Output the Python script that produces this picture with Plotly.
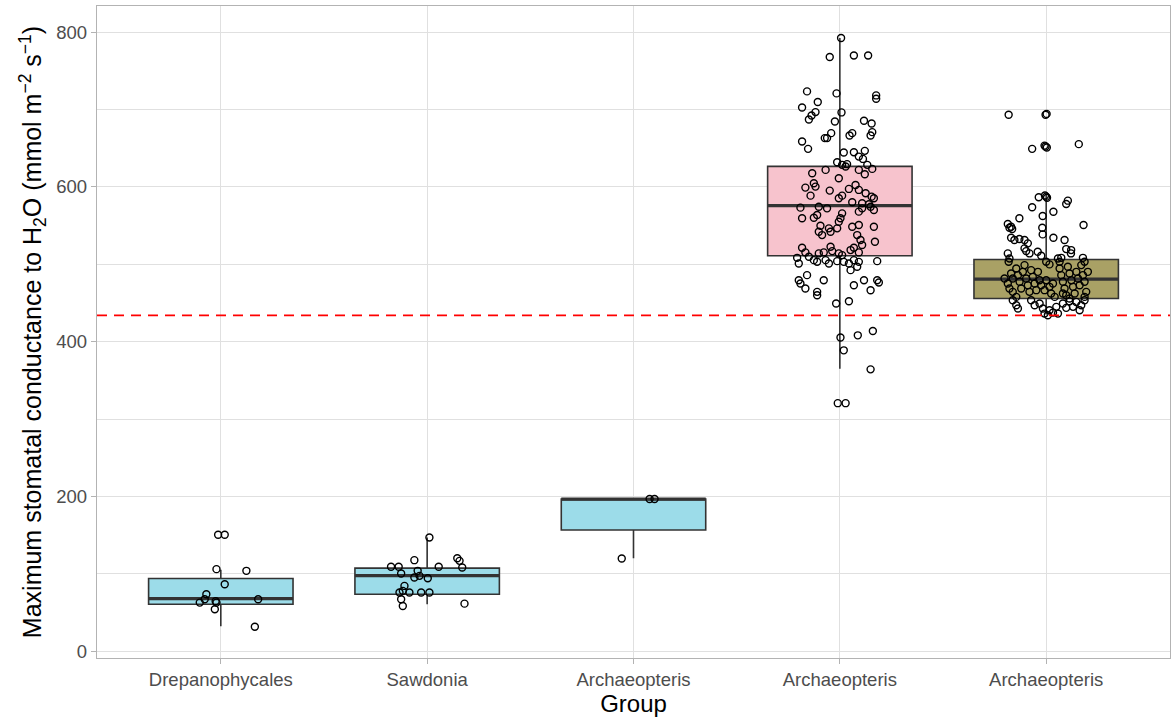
import plotly.graph_objects as go

# ---------------- data ----------------
tick_labels = ["Drepanophycales", "Sawdonia", "Archaeopteris", "Archaeopteris", "Archaeopteris"]
positions = [1, 2, 3, 4, 5]

# box statistics
q1 = [60.5, 73.5, 156.4, 511.0, 455.8]
median = [67.8, 97.6, 196.6, 576.0, 480.8]
q3 = [93.7, 107.2, 196.6, 626.6, 506.3]
lower_whisker = [32.0, 60.5, 120.1, 365.0, 435.0]
upper_whisker = [105.0, 146.8, 196.6, 792.7, 589.7]

box_fills = ["#9CDCE9", "#9CDCE9", "#9CDCE9", "#F7C3CD", "#A9A165"]

reference_line = 434

# observations (values) and their horizontal jitter (category units)
g1_values = [150.3, 150.3, 105.9, 103.7, 86.4, 73.5, 67.0, 62.6, 62.6, 64.5, 67.0, 54.0, 31.5]
g1_jitter = [-0.013, 0.019, -0.021, 0.124, 0.019, -0.070, -0.078, -0.102, -0.021, -0.025, 0.181, -0.029, 0.165]

g2_values = [146.8, 108.9, 108.9, 117.5, 108.9, 120.0, 116.6, 108.0, 100.2, 103.7, 97.2, 95.0,
             94.2, 84.2, 77.8, 75.6, 75.6, 75.6, 75.6, 67.0, 58.3, 61.3]
g2_jitter = [0.011, -0.175, -0.138, -0.062, 0.056, 0.146, 0.157, 0.170, -0.126, -0.046, -0.037, -0.062,
             0.003, -0.110, -0.118, -0.134, -0.086, -0.029, 0.011, -0.126, -0.118, 0.181]

g3_values = [119.6, 196.6, 196.6]
g3_jitter = [-0.057, 0.078, 0.102]

g4_values = [792.7, 768.0, 770.0, 770.0, 723.6, 721.0, 709.8, 718.4, 714.0, 702.8, 696.4, 696.8,
             692.5, 687.3, 684.7, 685.6, 682.1, 670.9, 666.6, 669.6, 666.6, 669.6, 663.2, 663.2,
             658.8, 649.3, 644.5, 645.0, 646.7, 639.3, 636.3, 628.6, 632.0, 628.6, 629.5,
             617.8, 622.1, 626.4, 622.1, 623.4, 616.5, 611.3, 604.9, 600.5, 599.2, 588.8, 595.3,
             597.5, 602.6, 596.2, 591.9, 587.5, 585.4, 585.4, 588.8, 580.2, 578.9, 577.6, 573.3,
             559.5, 574.5, 563.7, 560.3, 572.4, 565.9, 559.5, 555.1, 546.5, 568.1, 572.4, 574.5,
             570.2, 549.9, 542.1, 537.8, 546.5, 542.1, 548.6, 550.8, 537.8, 531.4, 524.9, 548.6,
             529.2, 521.4, 518.4, 515.4, 521.4, 515.4, 514.1, 515.4, 522.7, 517.1, 514.1, 511.9,
             508.4, 501.1, 509.7, 505.4, 503.3, 505.4, 501.1, 504.1, 503.2, 501.1, 505.4, 503.2,
             496.8, 504.1, 492.5, 486.0, 479.5, 475.2, 468.8, 464.4, 479.5, 473.0, 479.5, 466.5,
             479.5, 476.5, 460.0, 449.3, 452.3, 405.3, 408.2, 413.8, 388.8, 364.2, 320.5, 320.5]
g4_jitter = [0.006, -0.049, 0.068, 0.137, -0.159, -0.016, -0.107, 0.176, 0.176, -0.183, 0.008, -0.118,
             -0.137, -0.150, -0.024, 0.117, 0.154, 0.157, 0.149, 0.060, 0.047, -0.042, -0.073, -0.062,
             -0.183, -0.154, 0.019, 0.068, 0.121, 0.092, 0.112, 0.133, -0.013, 0.011, 0.035,
             -0.134, -0.069, 0.028, 0.092, 0.157, 0.121, -0.005, -0.126, -0.118, -0.167, -0.142, -0.049,
             0.044, 0.076, 0.092, 0.125, 0.154, 0.165, -0.005, 0.011, 0.060, 0.108, 0.141, -0.191,
             -0.183, -0.102, -0.110, -0.126, -0.062, 0.011, 0.003, -0.005, -0.013, 0.092, 0.108, 0.149,
             0.165, -0.094, -0.102, -0.086, -0.053, -0.045, 0.060, 0.092, 0.084, 0.100, 0.108, 0.165,
             0.170, 0.068, 0.052, 0.092, -0.183, -0.167, -0.102, -0.078, -0.045, -0.037, -0.005, 0.011,
             -0.207, -0.199, -0.150, -0.126, -0.110, -0.069, -0.053, -0.013, 0.019, 0.044, 0.068, 0.092,
             0.084, 0.181, 0.052, -0.159, -0.199, -0.191, -0.167, -0.110, -0.078, 0.068, 0.117, 0.149,
             0.181, 0.189, -0.110, -0.018, 0.044, 0.003, 0.087, 0.160, 0.019, 0.149, -0.010, 0.028]

g5_values = [693.4, 693.4, 694.5, 649.3, 652.3, 653.5, 651.0, 655.4, 589.0, 587.5, 586.0, 586.7,
             582.3, 578.0, 573.7, 559.5, 562.5, 568.0, 552.1, 548.6, 550.8, 514.1,
             547.3, 545.6, 547.3, 538.7, 534.4, 531.4, 534.4, 531.4, 532.7, 531.4, 527.1, 520.6,
             517.1, 514.1, 514.1, 507.6, 503.3, 516.2, 511.0, 503.3, 499.9, 519.7, 518.4, 508.4,
             503.3, 508.4, 503.3,
             481.7, 475.2, 488.2, 481.7, 494.6, 486.0, 477.4, 468.7, 490.3, 499.0, 481.7, 473.0,
             464.4, 492.5, 483.8, 475.2, 466.6, 490.3, 479.5, 464.4, 457.9, 468.7,
             473.0, 466.6, 479.5, 470.9, 462.2, 475.2, 457.9,
             507.6, 494.6, 486.0, 477.4, 468.7, 460.1, 496.8, 488.2, 479.5, 470.9, 462.2, 490.3,
             481.7, 473.0, 499.0, 486.0, 477.4, 464.4, 490.3, 457.9, 455.8, 462.2,
             453.6, 447.1, 442.8, 453.6, 447.1, 449.3, 442.8, 436.3, 434.2, 440.6, 437.6, 445.0,
             436.3, 449.3, 443.7, 452.3, 445.0, 451.4, 440.6, 447.1, 453.6]
g5_jitter = [-0.182, -0.003, 0.002, -0.068, -0.003, -0.008, 0.003, 0.158, -0.006, 0.0, 0.004, -0.036,
             0.105, 0.097, -0.068, -0.130, -0.017, 0.035, -0.186, -0.170, 0.181, 0.120,
             -0.178, -0.165, -0.019, -0.017, 0.035, 0.089, -0.170, -0.154, -0.130, -0.105, -0.089, -0.105,
             -0.097, -0.081, -0.186, -0.178, -0.182, -0.041, -0.024, 0.0, 0.016, 0.097, 0.121, 0.073,
             0.065, 0.178, 0.186,
             -0.202, -0.186, -0.170, -0.162, -0.145, -0.137, -0.129, -0.121, -0.113, -0.105, -0.097, -0.089,
             -0.081, -0.073, -0.065, -0.056, -0.048, -0.040, -0.032, -0.162, -0.145, -0.178,
             -0.024, -0.008, 0.000, 0.016, 0.024, 0.033, 0.041,
             0.057, 0.065, 0.073, 0.081, 0.089, 0.097, 0.105, 0.113, 0.122, 0.130, 0.138, 0.146,
             0.154, 0.162, 0.170, 0.178, 0.186, 0.194, 0.202, 0.186, 0.113, 0.081,
             -0.162, -0.145, -0.137, -0.073, -0.056, -0.032, -0.016, -0.008, 0.008, 0.016, 0.033, 0.049,
             0.057, 0.081, 0.097, 0.113, 0.130, 0.146, 0.162, 0.170, 0.186]

group_values = [g1_values, g2_values, g3_values, g4_values, g5_values]
group_jitter = [g1_jitter, g2_jitter, g3_jitter, g4_jitter, g5_jitter]

y_title = "Maximum stomatal conductance to H<sub>2</sub>O (mmol m<sup>−2</sup> s<sup>−1</sup>)"
x_title = "Group"

# ---------------- figure ----------------
BOX_W = 0.7
EDGE = "#333333"
FONT = "Liberation Sans, Arial, sans-serif"
fig = go.Figure()

for i, pos in enumerate(positions):
    fig.add_trace(go.Box(
        x=[pos], q1=[q1[i]], median=[median[i]], q3=[q3[i]],
        lowerfence=[lower_whisker[i]], upperfence=[upper_whisker[i]],
        width=BOX_W, whiskerwidth=0, boxpoints=False,
        fillcolor=box_fills[i], line=dict(color=EDGE, width=1.6),
        showlegend=False, hoverinfo="skip",
    ))
    # thicker median line (ggplot style)
    fig.add_trace(go.Scatter(
        x=[pos - BOX_W / 2, pos + BOX_W / 2], y=[median[i], median[i]],
        mode="lines", line=dict(color=EDGE, width=3.2), showlegend=False, hoverinfo="skip",
    ))

for i, pos in enumerate(positions):
    fig.add_trace(go.Scatter(
        x=[pos + j for j in group_jitter[i]], y=group_values[i],
        mode="markers",
        marker=dict(symbol="circle", size=7, color="rgba(0,0,0,0)",
                    line=dict(color="black", width=1.4)),
        showlegend=False, hoverinfo="skip",
    ))

fig.add_hline(y=reference_line, line=dict(color="#FF0000", width=1.7, dash="10px,7px"), layer="above")

axis_common = dict(
    showline=True, linecolor="#B3B3B3", linewidth=1.3, mirror=True,
    showgrid=True, gridcolor="#E0E0E0", gridwidth=1.3,
    ticks="outside", ticklen=5, tickcolor="#B3B3B3", tickwidth=1.3,
    tickfont=dict(family=FONT, size=18.5, color="#4D4D4D"),
    zeroline=False,
)

fig.update_layout(
    width=1174, height=720,
    margin=dict(l=97, r=4, t=6, b=62),
    paper_bgcolor="white", plot_bgcolor="white",
    boxmode="overlay",
    font=dict(family=FONT, color="black"),
    xaxis=dict(
        axis_common,
        range=[0.4, 5.6], tickmode="array", tickvals=positions, ticktext=tick_labels,
        title=dict(text=x_title, font=dict(size=24, color="black"), standoff=4),
    ),
    yaxis=dict(
        axis_common,
        range=[-9, 834], tickmode="array", tickvals=[0, 200, 400, 600, 800],
        minor=dict(tickvals=[100, 300, 500, 700], showgrid=True, gridcolor="#E0E0E0", gridwidth=1.3, ticks=""),
        title=dict(text=y_title, font=dict(size=25, color="black"), standoff=7),
    ),
)

fig.write_html("out.html")
